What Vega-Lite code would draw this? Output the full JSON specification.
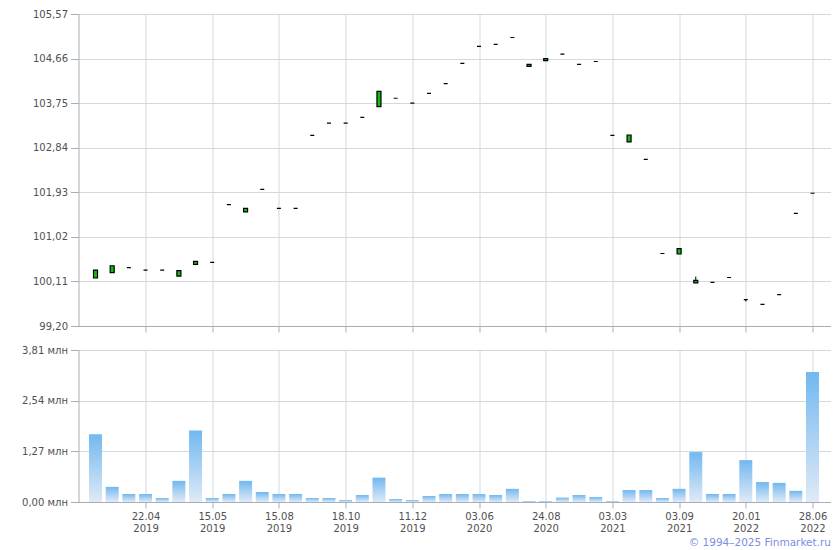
{
  "$schema": "https://vega.github.io/schema/vega-lite/v6.json",
  "padding": {"left": 21.5, "top": 9, "right": 4, "bottom": 2},
  "background": "white",
  "align": "all",
  "spacing": 12,
  "config": {
    "view": {"stroke": null},
    "font": "DejaVu Sans",
    "axis": {
      "domainColor": "#a9adb6",
      "tickColor": "#a9adb6",
      "gridColor": "#d3d8dc",
      "labelColor": "#505050",
      "labelFont": "DejaVu Sans",
      "labelFontSize": 10,
      "titleFont": "DejaVu Sans"
    }
  },
  "data": {
    "values": [
      {"i": 0, "o": 100.18, "c": 100.34, "h": 100.34, "l": 100.18, "v": 1.70},
      {"i": 1, "o": 100.29, "c": 100.43, "h": 100.43, "l": 100.29, "v": 0.38},
      {"i": 2, "o": 100.39, "c": 100.39, "h": 100.39, "l": 100.39, "v": 0.20},
      {"i": 3, "o": 100.34, "c": 100.34, "h": 100.34, "l": 100.34, "v": 0.20},
      {"i": 4, "o": 100.34, "c": 100.34, "h": 100.34, "l": 100.34, "v": 0.10},
      {"i": 5, "o": 100.22, "c": 100.33, "h": 100.33, "l": 100.22, "v": 0.53},
      {"i": 6, "o": 100.46, "c": 100.52, "h": 100.52, "l": 100.46, "v": 1.79},
      {"i": 7, "o": 100.50, "c": 100.50, "h": 100.50, "l": 100.50, "v": 0.10},
      {"i": 8, "o": 101.68, "c": 101.68, "h": 101.68, "l": 101.68, "v": 0.20},
      {"i": 9, "o": 101.53, "c": 101.60, "h": 101.60, "l": 101.53, "v": 0.53},
      {"i": 10, "o": 101.99, "c": 101.99, "h": 101.99, "l": 101.99, "v": 0.25},
      {"i": 11, "o": 101.60, "c": 101.60, "h": 101.60, "l": 101.60, "v": 0.20},
      {"i": 12, "o": 101.60, "c": 101.60, "h": 101.60, "l": 101.60, "v": 0.20},
      {"i": 13, "o": 103.09, "c": 103.09, "h": 103.09, "l": 103.09, "v": 0.10},
      {"i": 14, "o": 103.34, "c": 103.34, "h": 103.34, "l": 103.34, "v": 0.10},
      {"i": 15, "o": 103.34, "c": 103.34, "h": 103.34, "l": 103.34, "v": 0.05},
      {"i": 16, "o": 103.46, "c": 103.46, "h": 103.46, "l": 103.46, "v": 0.175},
      {"i": 17, "o": 103.68, "c": 103.99, "h": 103.99, "l": 103.68, "v": 0.61},
      {"i": 18, "o": 103.85, "c": 103.85, "h": 103.85, "l": 103.85, "v": 0.075},
      {"i": 19, "o": 103.75, "c": 103.75, "h": 103.75, "l": 103.75, "v": 0.05},
      {"i": 20, "o": 103.95, "c": 103.95, "h": 103.95, "l": 103.95, "v": 0.15},
      {"i": 21, "o": 104.15, "c": 104.15, "h": 104.15, "l": 104.15, "v": 0.20},
      {"i": 22, "o": 104.56, "c": 104.56, "h": 104.56, "l": 104.56, "v": 0.20},
      {"i": 23, "o": 104.91, "c": 104.91, "h": 104.91, "l": 104.91, "v": 0.20},
      {"i": 24, "o": 104.95, "c": 104.95, "h": 104.95, "l": 104.95, "v": 0.175},
      {"i": 25, "o": 105.09, "c": 105.09, "h": 105.09, "l": 105.09, "v": 0.33},
      {"i": 26, "o": 104.50, "c": 104.54, "h": 104.54, "l": 104.50, "v": 0.025},
      {"i": 27, "o": 104.62, "c": 104.66, "h": 104.66, "l": 104.62, "v": 0.025},
      {"i": 28, "o": 104.75, "c": 104.75, "h": 104.75, "l": 104.75, "v": 0.11},
      {"i": 29, "o": 104.54, "c": 104.54, "h": 104.54, "l": 104.54, "v": 0.175},
      {"i": 30, "o": 104.60, "c": 104.60, "h": 104.60, "l": 104.60, "v": 0.125},
      {"i": 31, "o": 103.09, "c": 103.09, "h": 103.09, "l": 103.09, "v": 0.025},
      {"i": 32, "o": 102.96, "c": 103.10, "h": 103.10, "l": 102.96, "v": 0.30},
      {"i": 33, "o": 102.60, "c": 102.60, "h": 102.60, "l": 102.60, "v": 0.30},
      {"i": 34, "o": 100.68, "c": 100.68, "h": 100.68, "l": 100.68, "v": 0.10},
      {"i": 35, "o": 100.67, "c": 100.78, "h": 100.78, "l": 100.67, "v": 0.33},
      {"i": 36, "o": 100.08, "c": 100.13, "h": 100.21, "l": 100.08, "v": 1.25},
      {"i": 37, "o": 100.09, "c": 100.09, "h": 100.09, "l": 100.09, "v": 0.20},
      {"i": 38, "o": 100.19, "c": 100.19, "h": 100.19, "l": 100.19, "v": 0.20},
      {"i": 39, "o": 99.74, "c": 99.74, "h": 99.74, "l": 99.70, "v": 1.05},
      {"i": 40, "o": 99.64, "c": 99.64, "h": 99.64, "l": 99.64, "v": 0.50},
      {"i": 41, "o": 99.84, "c": 99.84, "h": 99.84, "l": 99.84, "v": 0.48},
      {"i": 42, "o": 101.50, "c": 101.50, "h": 101.50, "l": 101.50, "v": 0.28},
      {"i": 43, "o": 101.91, "c": 101.91, "h": 101.91, "l": 101.91, "v": 3.26}
    ]
  },
  "vconcat": [
    {
      "width": 752,
      "height": 312,
      "encoding": {
        "x": {
          "field": "i",
          "type": "quantitative",
          "scale": {"domain": [-1.02, 44.08], "nice": false, "zero": false, "padding": 0},
          "axis": {
            "values": [3, 7, 11, 15, 19, 23, 27, 31, 35, 39, 43],
            "labels": false,
            "title": null,
            "grid": true,
            "tickSize": 6
          }
        }
      },
      "layer": [
        {
          "mark": {"type": "rule", "color": "#000000", "strokeWidth": 1},
          "encoding": {
            "y": {
              "field": "l",
              "type": "quantitative",
              "scale": {"domain": [99.2, 105.57], "nice": false, "zero": false},
              "axis": {
                "values": [99.2, 100.11, 101.02, 101.93, 102.84, 103.75, 104.66, 105.57],
                "labelExpr": "replace(format(datum.value, '.2f'), '.', ',')",
                "title": null,
                "grid": true,
                "tickSize": 8,
                "labelPadding": 3
              }
            },
            "y2": {"field": "h"}
          }
        },
        {
          "mark": {"type": "bar", "size": 4, "fill": "#11bb11", "stroke": "#000000", "strokeWidth": 1.2},
          "encoding": {
            "y": {"field": "o", "type": "quantitative"},
            "y2": {"field": "c"}
          }
        }
      ]
    },
    {
      "width": 752,
      "height": 152,
      "mark": {
        "type": "bar",
        "size": 13,
        "color": {
          "gradient": "linear",
          "x1": 0, "y1": 0, "x2": 0, "y2": 1,
          "stops": [
            {"offset": 0, "color": "#72b8ef"},
            {"offset": 1, "color": "#dfeaf7"}
          ]
        }
      },
      "encoding": {
        "x": {
          "field": "i",
          "type": "quantitative",
          "scale": {"domain": [-1.02, 44.08], "nice": false, "zero": false, "padding": 0},
          "axis": {
            "values": [3, 7, 11, 15, 19, 23, 27, 31, 35, 39, 43],
            "labelExpr": "split(['22.04 2019','15.05 2019','15.08 2019','18.10 2019','11.12 2019','03.06 2020','24.08 2020','03.03 2021','03.09 2021','20.01 2022','28.06 2022'][(datum.value - 3) / 4], ' ')",
            "labelLineHeight": 12,
            "labelPadding": 3,
            "grid": true,
            "tickSize": 6,
            "title": "© 1994–2025 Finmarket.ru",
            "titleAnchor": "end",
            "titleColor": "#7b8de0",
            "titleFontSize": 10.5,
            "titleFontWeight": "normal",
            "titlePadding": 4
          }
        },
        "y": {
          "field": "v",
          "type": "quantitative",
          "scale": {"domain": [0, 3.81], "nice": false, "zero": true},
          "axis": {
            "values": [0, 1.27, 2.54, 3.81],
            "labelExpr": "replace(format(datum.value, '.2f'), '.', ',') + ' млн'",
            "title": null,
            "grid": true,
            "tickSize": 8,
            "labelPadding": 3
          }
        }
      }
    }
  ]
}
